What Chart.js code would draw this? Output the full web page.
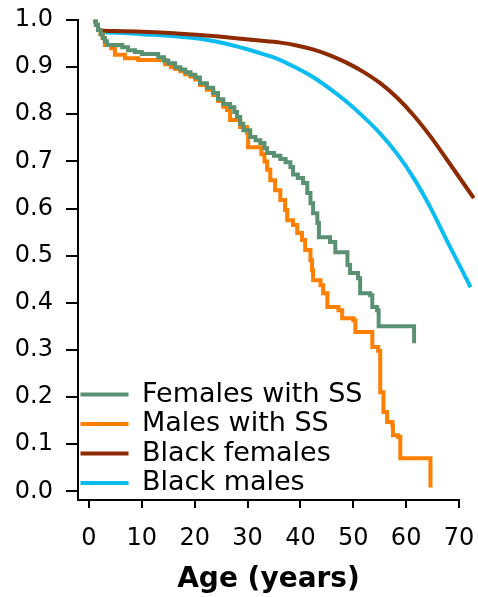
<!DOCTYPE html>
<html>
<head>
<meta charset="utf-8">
<script src="https://cdn.jsdelivr.net/npm/chart.js@4/dist/chart.umd.min.js"></script>
<style>
  html, body { margin: 0; padding: 0; background: #ffffff; }
  #wrap { width: 478px; height: 597px; }
</style>
</head>
<body>
<div id="wrap"><canvas id="c" width="478" height="597"></canvas></div>
<script>
// ---- Data ----
const seriesNames = ['Females with SS', 'Males with SS', 'Black females', 'Black males'];
const xTickValues = [0, 10, 20, 30, 40, 50, 60, 70];
const yTickValues = [0.0, 0.1, 0.2, 0.3, 0.4, 0.5, 0.6, 0.7, 0.8, 0.9, 1.0];

const femSSAge  = [0.8, 1.3, 1.7, 2.2, 2.6, 3.0, 3.4, 6.3, 7.4, 8.7, 10.0, 13.1, 14.2, 15.0, 16.3, 17.3, 18.2, 19.2, 20.1, 21.0, 22.3, 23.5, 24.4, 25.4, 26.7, 27.5, 28.0, 28.6, 29.2, 30.5, 31.5, 32.4, 33.2, 33.7, 35.0, 36.2, 37.2, 38.1, 38.6, 39.5, 40.5, 41.3, 41.9, 42.4, 43.2, 43.5, 45.6, 46.6, 48.9, 49.4, 50.9, 51.3, 53.2, 53.6, 54.5, 54.8, 61.5];
const femSSSurv = [0.997, 0.990, 0.979, 0.970, 0.962, 0.955, 0.947, 0.942, 0.936, 0.932, 0.928, 0.921, 0.914, 0.908, 0.900, 0.895, 0.889, 0.884, 0.878, 0.866, 0.856, 0.845, 0.832, 0.822, 0.815, 0.805, 0.794, 0.780, 0.766, 0.752, 0.745, 0.739, 0.728, 0.718, 0.712, 0.705, 0.698, 0.688, 0.672, 0.665, 0.654, 0.633, 0.611, 0.590, 0.569, 0.539, 0.529, 0.507, 0.480, 0.463, 0.452, 0.420, 0.416, 0.391, 0.384, 0.350, 0.314];

const maleSSAge  = [0.8, 1.3, 1.7, 2.2, 2.6, 3.0, 4.2, 4.9, 6.8, 9.3, 14.4, 15.5, 16.3, 17.3, 18.2, 19.2, 20.1, 21.0, 22.3, 23.5, 24.4, 25.4, 26.1, 26.7, 28.6, 29.9, 30.1, 32.6, 33.2, 33.7, 34.3, 35.2, 36.2, 37.1, 37.5, 38.6, 39.4, 40.3, 40.9, 41.9, 42.2, 42.4, 43.8, 44.3, 45.1, 47.2, 47.9, 50.0, 50.4, 53.6, 54.7, 55.1, 55.7, 56.4, 57.4, 57.5, 58.5, 58.9, 64.6];
const maleSSSurv = [0.997, 0.990, 0.979, 0.970, 0.962, 0.947, 0.940, 0.926, 0.919, 0.915, 0.906, 0.900, 0.896, 0.891, 0.885, 0.880, 0.874, 0.862, 0.852, 0.841, 0.828, 0.816, 0.809, 0.788, 0.773, 0.760, 0.730, 0.715, 0.700, 0.682, 0.660, 0.639, 0.618, 0.597, 0.575, 0.565, 0.548, 0.533, 0.512, 0.490, 0.469, 0.448, 0.437, 0.420, 0.391, 0.384, 0.367, 0.363, 0.338, 0.306, 0.298, 0.210, 0.168, 0.147, 0.140, 0.119, 0.115, 0.070, 0.008];

const blackFemAge  = [2.3, 10.0, 21.0, 27.3, 33.7, 36.2, 39.3, 42.5, 45.6, 48.8, 51.9, 55.1, 58.3, 61.4, 64.6, 67.7, 72.8];
const blackFemSurv = [0.977, 0.975, 0.968, 0.962, 0.955, 0.952, 0.946, 0.937, 0.925, 0.909, 0.890, 0.866, 0.835, 0.798, 0.753, 0.704, 0.622];

const blackMaleAge  = [2.7, 10.0, 21.0, 27.3, 33.7, 36.2, 39.3, 42.5, 45.6, 48.8, 51.9, 55.1, 58.3, 61.4, 64.6, 67.7, 72.2];
const blackMaleSurv = [0.974, 0.970, 0.960, 0.946, 0.925, 0.915, 0.898, 0.878, 0.854, 0.826, 0.795, 0.759, 0.716, 0.665, 0.602, 0.532, 0.433];

const seriesColors = ['#5b9173', '#ff7f00', '#8e2a00', '#0abcf0'];

// ---- Build ----
const toPts = (xs, ys) => xs.map((x, i) => ({ x: x, y: ys[i] }));

const datasets = [
  { label: seriesNames[0], data: toPts(femSSAge, femSSSurv), stepped: 'before' },
  { label: seriesNames[1], data: toPts(maleSSAge, maleSSSurv), stepped: 'before' },
  { label: seriesNames[2], data: toPts(blackFemAge, blackFemSurv), cubicInterpolationMode: 'monotone' },
  { label: seriesNames[3], data: toPts(blackMaleAge, blackMaleSurv), cubicInterpolationMode: 'monotone' }
].map((d, i) => Object.assign(d, {
  borderColor: seriesColors[i],
  backgroundColor: seriesColors[i],
  borderWidth: 4,
  pointRadius: 0,
  pointHoverRadius: 0,
  fill: false,
  clip: false,
  borderJoinStyle: 'miter',
  borderCapStyle: 'butt'
}));

const legendFix = {
  id: 'legendFix',
  afterLayout(chart) {
    const lg = chart.legend, ca = chart.chartArea;
    if (lg && ca) { lg.top = ca.top; lg.bottom = ca.bottom - 1; }
  }
};

const tickFont = { family: 'DejaVu Sans', size: 24 };

new Chart(document.getElementById('c'), {
  type: 'line',
  data: { datasets: datasets },
  plugins: [legendFix],
  options: {
    responsive: false,
    animation: false,
    events: [],
    layout: { padding: { top: 20, right: 19, bottom: 0, left: 0 } },
    plugins: {
      tooltip: { enabled: false },
      title: { display: false },
      legend: {
        display: true,
        position: 'chartArea',
        align: 'end',
        labels: {
          color: '#000',
          font: { family: 'DejaVu Sans', size: 27 },
          boxWidth: 48,
          boxHeight: 4,
          padding: 2.5,
          generateLabels: (chart) => Chart.defaults.plugins.legend.labels.generateLabels(chart)
            .map(l => Object.assign(l, { fillStyle: l.strokeStyle, lineWidth: 0 }))
        }
      }
    },
    scales: {
      x: {
        type: 'linear',
        min: -2.08,
        max: 70,
        afterFit: (s) => { s.height = 97; s.paddingLeft = 0; s.paddingRight = 0; },
        afterBuildTicks: (s) => { s.ticks = xTickValues.map(v => ({ value: v })); },
        border: { display: true, color: '#000', width: 2 },
        grid: { display: true, drawOnChartArea: false, drawTicks: true, tickLength: 8, color: '#000', lineWidth: 2 },
        ticks: { color: '#000', font: tickFont, padding: 16, maxRotation: 0, autoSkip: false,
                 callback: (v) => String(v) },
        title: { display: true, text: 'Age (years)', color: '#000',
                 font: { family: 'DejaVu Sans', size: 28, weight: 'bold' },
                 padding: { top: 0, bottom: 0 } }
      },
      y: {
        type: 'linear',
        min: -0.0185,
        max: 1.0,
        afterFit: (s) => { s.width = 78; s.paddingTop = 0; s.paddingBottom = 0; },
        afterBuildTicks: (s) => { s.ticks = yTickValues.map(v => ({ value: v })); },
        border: { display: true, color: '#000', width: 2 },
        grid: { display: true, drawOnChartArea: false, drawTicks: true, tickLength: 12, color: '#000', lineWidth: 2 },
        ticks: { color: '#000', font: tickFont, padding: 13, autoSkip: false,
                 callback: (v) => Number(v).toFixed(1) }
      }
    }
  }
});
</script>
</body>
</html>
